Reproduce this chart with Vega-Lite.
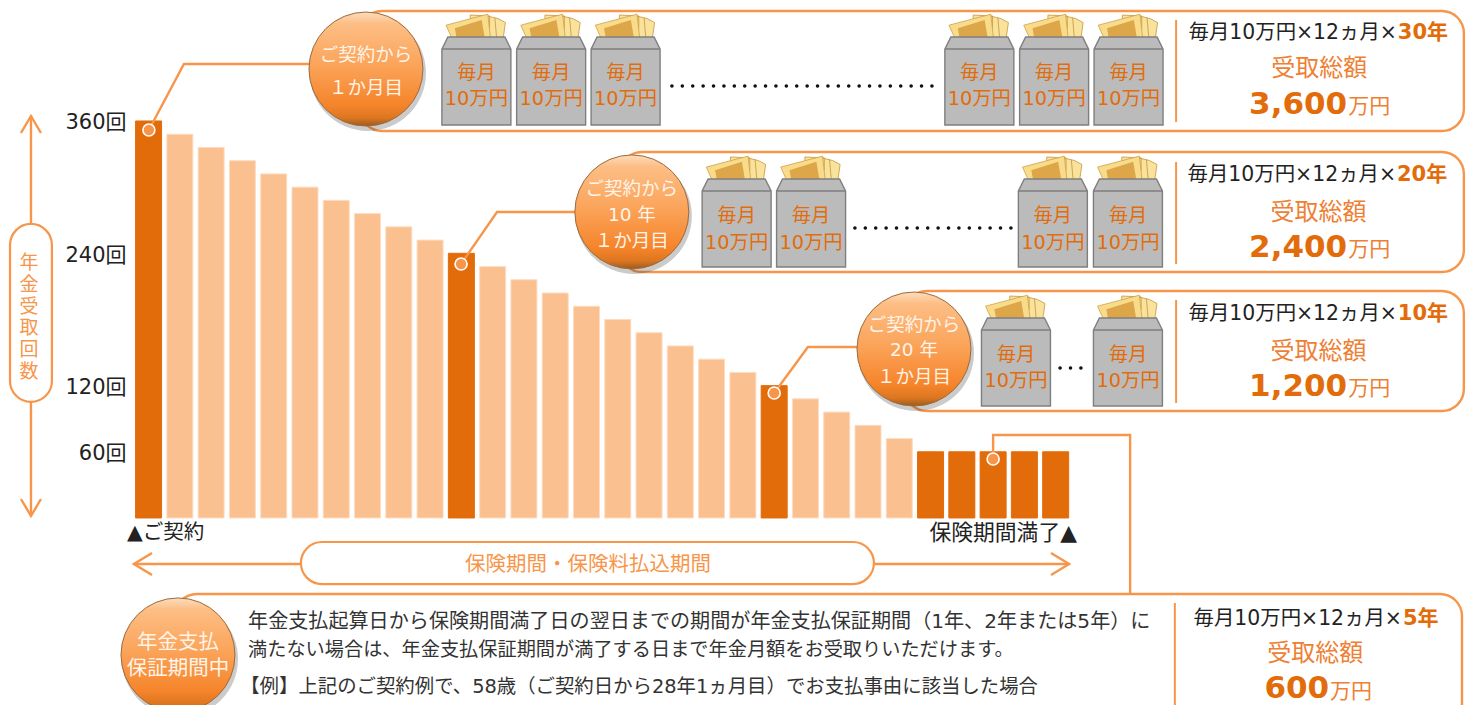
{
"$schema":"https://vega.github.io/schema/vega-lite/v6.json",
"width":1467,"height":705,"padding":0,"autosize":{"type":"none"},"background":"white",
"config":{"view":{"stroke":null},"font":"DejaVu Sans, Noto Sans CJK JP","text":{"font":"DejaVu Sans, Noto Sans CJK JP","baseline":"middle","dy":1}},
"datasets":{
"bars":[
{"year":1,"count":360,"phase":"節目"},{"year":2,"count":348,"phase":"通常"},{"year":3,"count":336,"phase":"通常"},{"year":4,"count":324,"phase":"通常"},{"year":5,"count":312,"phase":"通常"},{"year":6,"count":300,"phase":"通常"},{"year":7,"count":288,"phase":"通常"},{"year":8,"count":276,"phase":"通常"},{"year":9,"count":264,"phase":"通常"},{"year":10,"count":252,"phase":"通常"},
{"year":11,"count":240,"phase":"節目"},{"year":12,"count":228,"phase":"通常"},{"year":13,"count":216,"phase":"通常"},{"year":14,"count":204,"phase":"通常"},{"year":15,"count":192,"phase":"通常"},{"year":16,"count":180,"phase":"通常"},{"year":17,"count":168,"phase":"通常"},{"year":18,"count":156,"phase":"通常"},{"year":19,"count":144,"phase":"通常"},{"year":20,"count":132,"phase":"通常"},
{"year":21,"count":120,"phase":"節目"},{"year":22,"count":108,"phase":"通常"},{"year":23,"count":96,"phase":"通常"},{"year":24,"count":84,"phase":"通常"},{"year":25,"count":72,"phase":"通常"},{"year":26,"count":60,"phase":"節目"},{"year":27,"count":60,"phase":"節目"},{"year":28,"count":60,"phase":"節目"},{"year":29,"count":60,"phase":"節目"},{"year":30,"count":60,"phase":"節目"}],
"lines":[
{"id":"c1","seq":1,"year":1.01,"count":351.8},{"id":"c1","seq":2,"year":2.13,"count":411.7},{"id":"c1","seq":3,"year":6.16,"count":411.7},
{"id":"c2","seq":1,"year":10.99,"count":230.3},{"id":"c2","seq":2,"year":12.14,"count":277.5},{"id":"c2","seq":3,"year":14.79,"count":277.5},
{"id":"c3","seq":1,"year":21.0,"count":113.3},{"id":"c3","seq":2,"year":22.08,"count":155.0},{"id":"c3","seq":3,"year":23.74,"count":155.0},
{"id":"c4","seq":1,"year":28.0,"count":53.5},{"id":"c4","seq":2,"year":28.0,"count":75.3},{"id":"c4","seq":3,"year":32.38,"count":75.3},{"id":"c4","seq":4,"year":32.38,"count":-69.0},
{"id":"up","seq":1,"year":-2.76,"count":266.6},{"id":"up","seq":2,"year":-2.76,"count":364.5},
{"id":"upa","seq":1,"year":-3.08,"count":349.1},{"id":"upa","seq":2,"year":-2.76,"count":364.5},{"id":"upa","seq":3,"year":-2.44,"count":349.1},
{"id":"dn","seq":1,"year":-2.76,"count":105.2},{"id":"dn","seq":2,"year":-2.76,"count":1.8},
{"id":"dna","seq":1,"year":-3.08,"count":17.2},{"id":"dna","seq":2,"year":-2.76,"count":1.8},{"id":"dna","seq":3,"year":-2.44,"count":17.2},
{"id":"h","seq":1,"year":0.53,"count":-41.7},{"id":"h","seq":2,"year":30.43,"count":-41.7},
{"id":"ha","seq":1,"year":1.11,"count":-31.8},{"id":"ha","seq":2,"year":0.53,"count":-41.7},{"id":"ha","seq":3,"year":1.11,"count":-51.7},
{"id":"hb","seq":1,"year":29.85,"count":-31.8},{"id":"hb","seq":2,"year":30.43,"count":-41.7},{"id":"hb","seq":3,"year":29.85,"count":-51.7}],
"separators":[
{"id":"s1","seq":1,"year":33.85,"count":451.6},{"id":"s1","seq":2,"year":33.85,"count":359.1},
{"id":"s2","seq":1,"year":33.85,"count":322.8},{"id":"s2","seq":2,"year":33.85,"count":230.3},
{"id":"s3","seq":1,"year":33.85,"count":197.7},{"id":"s3","seq":2,"year":33.85,"count":104.3},
{"id":"s4","seq":1,"year":33.81,"count":-77.1},{"id":"s4","seq":2,"year":33.81,"count":-183.2}],
"ellipses":[
{"id":"e1","seq":1,"year":17.73,"count":391.7},{"id":"e1","seq":2,"year":26.05,"count":391.7},
{"id":"e2","seq":1,"year":23.58,"count":262.9},{"id":"e2","seq":2,"year":28.6,"count":262.9},
{"id":"e3","seq":1,"year":30.14,"count":136.0},{"id":"e3","seq":2,"year":30.87,"count":136.0}],
"boxes":[
{"year":7.76,"year2":43.05,"count":459.7,"count2":350.9},
{"year":16.07,"year2":43.05,"count":331.9,"count2":223.0},
{"year":25.18,"year2":43.05,"count":205.8,"count2":97.0},
{"year":1.84,"year2":42.99,"count":-69.0,"count2":-210.4}],
"pills":[
{"year":-3.43,"year2":-2.09,"count":266.6,"count2":105.2},
{"year":5.87,"year2":24.19,"count":-21.8,"count2":-59.9}],
"envelopes":[
{"year":11.48,"count":396.2},{"year":13.87,"count":396.2},{"year":16.25,"count":396.2},{"year":27.56,"count":396.2},{"year":29.95,"count":396.2},{"year":32.33,"count":396.2},
{"year":19.8,"count":267.5},{"year":22.18,"count":267.5},{"year":29.91,"count":267.5},{"year":32.31,"count":267.5},
{"year":28.73,"count":141.4},{"year":32.31,"count":141.4}],
"spheres":[{"year":7.95,"count":407.1},{"year":16.45,"count":277.5},{"year":25.47,"count":153.2},{"year":1.94,"count":-124.2}],
"markers":[{"year":1.01,"count":351.8},{"year":10.99,"count":230.3},{"year":21.0,"count":113.3},{"year":28.0,"count":53.5}],
"sphereText":[
{"year":7.95,"count":420.7,"label":"ご契約から"},{"year":7.95,"count":390.8,"label":"１か月目"},
{"year":16.45,"count":299.2,"label":"ご契約から"},{"year":16.45,"count":275.6,"label":"10 年"},{"year":16.45,"count":252.1,"label":"１か月目"},
{"year":25.47,"count":175.9,"label":"ご契約から"},{"year":25.47,"count":153.2,"label":"20 年"},{"year":25.47,"count":128.7,"label":"１か月目"}],
"sphereText4":[{"year":1.94,"count":-112.5,"label":"年金支払"},{"year":1.94,"count":-136.0,"label":"保証期間中"}],
"envelopeText":[
{"year":11.48,"count":404.4,"label":"毎月"},{"year":13.87,"count":404.4,"label":"毎月"},{"year":16.25,"count":404.4,"label":"毎月"},{"year":27.56,"count":404.4,"label":"毎月"},{"year":29.95,"count":404.4,"label":"毎月"},{"year":32.33,"count":404.4,"label":"毎月"},
{"year":11.48,"count":380.8,"label":"10万円"},{"year":13.87,"count":380.8,"label":"10万円"},{"year":16.25,"count":380.8,"label":"10万円"},{"year":27.56,"count":380.8,"label":"10万円"},{"year":29.95,"count":380.8,"label":"10万円"},{"year":32.33,"count":380.8,"label":"10万円"},
{"year":19.8,"count":274.7,"label":"毎月"},{"year":22.18,"count":274.7,"label":"毎月"},{"year":29.91,"count":274.7,"label":"毎月"},{"year":32.31,"count":274.7,"label":"毎月"},
{"year":19.8,"count":250.3,"label":"10万円"},{"year":22.18,"count":250.3,"label":"10万円"},{"year":29.91,"count":250.3,"label":"10万円"},{"year":32.31,"count":250.3,"label":"10万円"},
{"year":28.73,"count":148.7,"label":"毎月"},{"year":32.31,"count":148.7,"label":"毎月"},
{"year":28.73,"count":125.1,"label":"10万円"},{"year":32.31,"count":125.1,"label":"10万円"}],
"formula":[
{"year":40.91,"count":440.7,"label":"毎月10万円×12ヵ月×"},{"year":40.88,"count":311.9,"label":"毎月10万円×12ヵ月×"},{"year":40.91,"count":185.9,"label":"毎月10万円×12ヵ月×"},{"year":41.07,"count":-90.7,"label":"毎月10万円×12ヵ月×"}],
"formulaYears":[
{"year":40.94,"count":440.7,"label":"30年"},{"year":40.91,"count":311.9,"label":"20年"},{"year":40.94,"count":185.9,"label":"10年"},{"year":41.1,"count":-90.7,"label":"5年"}],
"totalLabel":[
{"year":38.43,"count":408.0,"label":"受取総額"},{"year":38.4,"count":277.5,"label":"受取総額"},{"year":38.4,"count":151.4,"label":"受取総額"},{"year":38.3,"count":-122.4,"label":"受取総額"}],
"totalValue":[
{"year":37.75,"count":375.4,"label":"3,600"},{"year":37.75,"count":245.7,"label":"2,400"},{"year":37.75,"count":119.7,"label":"1,200"},{"year":37.71,"count":-154.2,"label":"600"}],
"totalUnit":[
{"year":39.35,"count":373.6,"label":"万円"},{"year":39.35,"count":243.9,"label":"万円"},{"year":39.35,"count":117.9,"label":"万円"},{"year":38.77,"count":-156.9,"label":"万円"}],
"axisTitle":[
{"year":-2.82,"count":232.1,"label":"年"},{"year":-2.82,"count":212.2,"label":"金"},{"year":-2.82,"count":192.2,"label":"受"},{"year":-2.82,"count":173.2,"label":"取"},{"year":-2.82,"count":153.2,"label":"回"},{"year":-2.82,"count":133.3,"label":"数"}],
"periodLabel":[{"year":15.05,"count":-41.7,"label":"保険期間・保険料払込期間"}],
"startLabel":[{"year":0.31,"count":-12.7,"label":"▲ご契約"}],
"endLabel":[{"year":30.68,"count":-12.7,"label":"保険期間満了▲"}],
"noteA":[{"year":4.18,"count":-93.4,"label":"年金支払起算日から保険期間満了日の翌日までの期間が年金支払保証期間（1年、2年または5年）に"}],
"noteB":[{"year":4.18,"count":-118.8,"label":"満たない場合は、年金支払保証期間が満了する日まで年金月額をお受取りいただけます。"}],
"noteC":[{"year":3.93,"count":-152.3,"label":"【例】上記のご契約例で、58歳（ご契約日から28年1ヵ月目）でお支払事由に該当した場合"}]
},
"encoding":{
"x":{"field":"year","type":"quantitative","scale":{"domain":[-3.75,43.15],"nice":false,"zero":false,"padding":0},"axis":null},
"y":{"field":"count","type":"quantitative","stack":null,"scale":{"domain":[-169.6,469.7],"nice":false,"zero":false},
 "axis":{"values":[60,120,240,360],"labelExpr":"datum.value+'回'","offset":-127,"domain":false,"ticks":false,"grid":false,"title":null,"labelFontSize":21,"labelColor":"#222222","labelFont":"DejaVu Sans, Noto Sans CJK JP","labelPadding":1,"labelOffset":2,"labelOverlap":false,"labelBound":false,"labelFlush":false}}
},
"layer":[
{"data":{"name":"bars"},"mark":{"type":"bar","orient":"vertical","size":26,"strokeWidth":1},
 "encoding":{
  "fill":{"field":"phase","type":"nominal","scale":{"domain":["節目","通常"],"range":["#E36C0A","#FAC090"]},"legend":null},
  "stroke":{"field":"phase","type":"nominal","scale":{"domain":["節目","通常"],"range":["#E36C0A","#FDDCC0"]},"legend":null}}},
{"data":{"name":"lines"},"mark":{"type":"line","color":"#F7964A","strokeWidth":2.4,"strokeJoin":"miter"},"encoding":{"detail":{"field":"id"},"order":{"field":"seq"}}},
{"data":{"name":"boxes"},"mark":{"type":"rect","fill":"white","stroke":"#F7964A","strokeWidth":2.4,"cornerRadius":22},"encoding":{"x2":{"field":"year2"},"y2":{"field":"count2"}}},
{"data":{"name":"separators"},"mark":{"type":"line","color":"#F7964A","strokeWidth":2},"encoding":{"detail":{"field":"id"},"order":{"field":"seq"}}},
{"data":{"name":"ellipses"},"mark":{"type":"line","color":"#111111","strokeWidth":3.5,"strokeCap":"round","strokeDash":[0.1,10.3]},"encoding":{"detail":{"field":"id"},"order":{"field":"seq"}}},
{"data":{"name":"pills"},"mark":{"type":"rect","fill":"white","stroke":"#F7964A","strokeWidth":2.2,"cornerRadius":21},"encoding":{"x2":{"field":"year2"},"y2":{"field":"count2"}}},
{"data":{"name":"envelopes"},"mark":{"type":"point","filled":true,"opacity":1,"size":7744,"fill":"#F9E29C","stroke":"#C8963A","strokeWidth":0.8,"shape":"M0.24,-1.48 L0.49,-1.42 L0.66,-1.33 L0.61,-0.98 L0.24,-0.98 Z M0.42,-1.44 L0.46,-0.98 M-0.14,-1.5 L0.3,-1.48 L0.3,-1.2 L-0.14,-1.2 Z"}},
{"data":{"name":"envelopes"},"mark":{"type":"point","filled":true,"opacity":1,"size":7744,"fill":"#F8DC8C","stroke":"#D0A045","strokeWidth":0.8,"shape":"M-0.69,-1.27 L0.26,-1.52 L0.32,-0.98 L-0.56,-0.98 Z"}},
{"data":{"name":"envelopes"},"mark":{"type":"point","filled":true,"opacity":1,"size":7744,"fill":"#DDA648","strokeWidth":0,"shape":"M-0.49,-1.2 L0.12,-1.39 L0.19,-0.98 L-0.45,-0.98 Z"}},
{"data":{"name":"envelopes"},"mark":{"type":"point","filled":true,"opacity":1,"size":7744,"fill":"#BBBBBB","stroke":"#7F7F7F","strokeWidth":1.4,"shape":"M-0.648,-1 L0.648,-1 L0.784,-0.727 L0.784,1 L-0.784,1 L-0.784,-0.727 Z M-0.784,-0.727 L0.784,-0.727"}},
{"data":{"name":"envelopeText"},"mark":{"type":"text","fontSize":19.3,"color":"#E36C0A"},"encoding":{"text":{"field":"label"}}},
{"data":{"name":"spheres"},"mark":{"type":"point","filled":true,"opacity":0.28,"size":13456,"shape":"circle","fill":"#444444","strokeWidth":0,"xOffset":2,"yOffset":4}},
{"data":{"name":"spheres"},"mark":{"type":"point","filled":true,"opacity":1,"size":12996,"shape":"circle","stroke":"#9C6A3C","strokeWidth":1,
 "fill":{"gradient":"linear","x1":0,"y1":0,"x2":0,"y2":1,"stops":[{"offset":0,"color":"#FCDDBD"},{"offset":0.1,"color":"#FDBE85"},{"offset":0.45,"color":"#FBA55C"},{"offset":0.82,"color":"#F5842A"},{"offset":0.93,"color":"#DC7620"},{"offset":1,"color":"#9A5C22"}]}}},
{"data":{"name":"sphereText"},"mark":{"type":"text","fontSize":18.5,"color":"#FFF4E8"},"encoding":{"text":{"field":"label"}}},
{"data":{"name":"sphereText4"},"mark":{"type":"text","fontSize":20.5,"color":"#FFF4E8"},"encoding":{"text":{"field":"label"}}},
{"data":{"name":"markers"},"mark":{"type":"point","filled":true,"opacity":1,"size":144,"shape":"circle","fill":"#F7964A","stroke":"#FFFFFF","strokeWidth":1.6}},
{"data":{"name":"formula"},"mark":{"type":"text","fontSize":20.4,"align":"right","color":"#222222"},"encoding":{"text":{"field":"label"}}},
{"data":{"name":"formulaYears"},"mark":{"type":"text","fontSize":21,"align":"left","fontWeight":"bold","color":"#E36C0A"},"encoding":{"text":{"field":"label"}}},
{"data":{"name":"totalLabel"},"mark":{"type":"text","fontSize":24,"color":"#EE8033"},"encoding":{"text":{"field":"label"}}},
{"data":{"name":"totalValue"},"mark":{"type":"text","fontSize":31,"fontWeight":"bold","color":"#E36C0A"},"encoding":{"text":{"field":"label"}}},
{"data":{"name":"totalUnit"},"mark":{"type":"text","fontSize":21,"align":"left","color":"#EE8033"},"encoding":{"text":{"field":"label"}}},
{"data":{"name":"axisTitle"},"mark":{"type":"text","fontSize":19,"color":"#F7964A"},"encoding":{"text":{"field":"label"}}},
{"data":{"name":"periodLabel"},"mark":{"type":"text","fontSize":20.5,"color":"#F7964A"},"encoding":{"text":{"field":"label"}}},
{"data":{"name":"startLabel"},"mark":{"type":"text","fontSize":20.5,"align":"left","color":"#222222"},"encoding":{"text":{"field":"label"}}},
{"data":{"name":"endLabel"},"mark":{"type":"text","fontSize":21.8,"align":"right","color":"#222222"},"encoding":{"text":{"field":"label"}}},
{"data":{"name":"noteA"},"mark":{"type":"text","fontSize":20.1,"align":"left","color":"#333333"},"encoding":{"text":{"field":"label"}}},
{"data":{"name":"noteB"},"mark":{"type":"text","fontSize":19.2,"align":"left","color":"#333333"},"encoding":{"text":{"field":"label"}}},
{"data":{"name":"noteC"},"mark":{"type":"text","fontSize":19.4,"align":"left","color":"#333333"},"encoding":{"text":{"field":"label"}}}
]
}
